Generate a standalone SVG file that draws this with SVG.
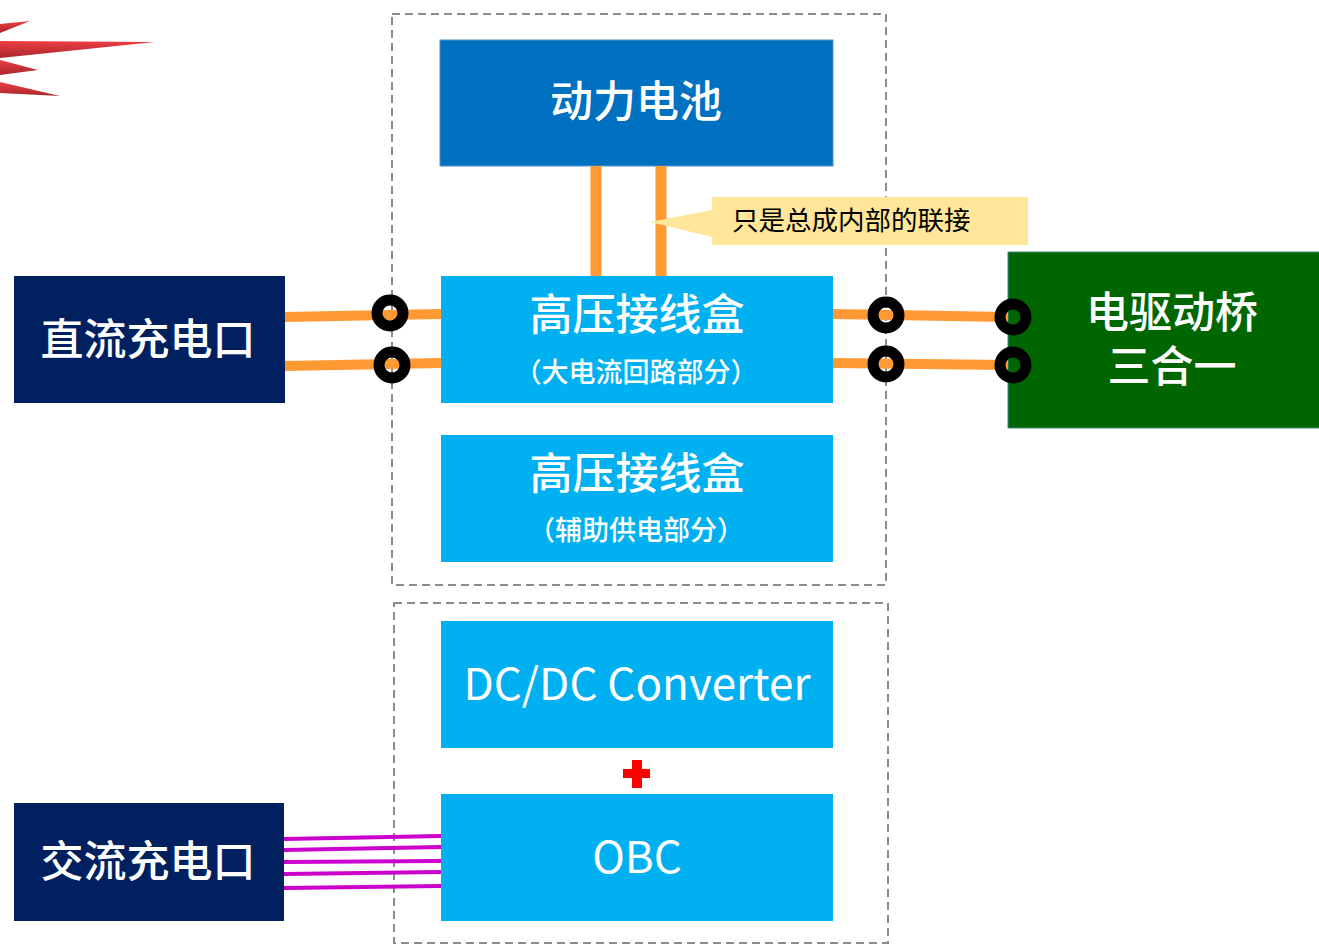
<svg xmlns="http://www.w3.org/2000/svg" width="1319" height="945" viewBox="0 0 1319 945">
  <defs>
    <linearGradient id="spikeGrad" x1="0" y1="0" x2="0" y2="1">
      <stop offset="0" stop-color="#ee3e44"/>
      <stop offset="1" stop-color="#a8272b"/>
    </linearGradient>
    <style>
      .zone { fill: none; stroke: #8c8c8c; stroke-width: 2; stroke-dasharray: 8 5; }
      .lbl { font-family: "Noto Sans CJK SC", "Noto Sans", sans-serif; fill: #ffffff; text-anchor: middle; }
      .cn { font-size: 43px; font-weight: 500; }
      .sub { font-size: 27px; font-weight: 500; }
      .en { font-size: 44px; font-weight: normal; }
      .hv { stroke: #ff9933; stroke-width: 10; fill: none; }
      .ac { stroke: #cc00cc; stroke-width: 4; fill: none; }
      .ring { fill: none; stroke: #000000; stroke-width: 11; }
    </style>
  </defs>
  <rect width="1319" height="945" fill="#ffffff"/>

  <!-- decorative red spikes, top left -->
  <g id="spikes" fill="url(#spikeGrad)">
    <polygon points="0,24 30,21 0,33"/>
    <polygon points="0,41 155,42 0,58"/>
    <polygon points="0,60 38,70 0,75"/>
    <polygon points="0,82 60,96 0,93"/>
  </g>

  <!-- dashed assembly outlines -->
  <rect class="zone" x="392" y="14" width="494" height="571"/>
  <rect class="zone" x="394" y="603" width="494" height="340"/>

  <g id="battery">
    <rect x="440" y="40" width="393" height="126" fill="#0070c0" stroke="#4f92d0" stroke-width="1"/>
    <text class="lbl cn" x="636" y="117">动力电池</text>
  </g>

  <g id="hv-box-main">
    <rect x="441" y="276" width="392" height="127" fill="#00b0f0"/>
    <text class="lbl cn" x="637" y="330">高压接线盒</text>
    <text class="lbl sub" x="636" y="382">（大电流回路部分）</text>
  </g>

  <g id="hv-box-aux">
    <rect x="441" y="435" width="392" height="127" fill="#00b0f0"/>
    <text class="lbl cn" x="637" y="489">高压接线盒</text>
    <text class="lbl sub" x="636" y="540">（辅助供电部分）</text>
  </g>

  <g id="dcdc">
    <rect x="441" y="621" width="392" height="127" fill="#00b0f0"/>
    <text class="lbl en" x="637" y="700">DC/DC Converter</text>
  </g>

  <g id="plus" fill="#ff0000">
    <rect x="623" y="769" width="27" height="9"/>
    <rect x="632" y="760" width="10" height="28"/>
  </g>

  <g id="obc">
    <rect x="441" y="794" width="392" height="127" fill="#00b0f0"/>
    <text class="lbl en" x="637" y="873">OBC</text>
  </g>

  <g id="dc-port">
    <rect x="14" y="276" width="271" height="127" fill="#002060"/>
    <text class="lbl cn" x="148" y="355">直流充电口</text>
  </g>

  <g id="ac-port">
    <rect x="14" y="803" width="270" height="118" fill="#002060"/>
    <text class="lbl cn" x="148" y="877">交流充电口</text>
  </g>

  <g id="edrive">
    <rect x="1008" y="252" width="312" height="176" fill="#006600" stroke="#3a8a8a" stroke-width="1"/>
    <text class="lbl cn" x="1172" y="328">电驱动桥<tspan x="1172" dy="54">三合一</tspan></text>
  </g>

  <!-- connectors: high-voltage cables, AC wires and terminal rings -->
  <g id="connectors">
    <line class="hv" x1="596" y1="166" x2="596" y2="276" style="stroke-width:11"/>
    <line class="hv" x1="661" y1="166" x2="661" y2="276" style="stroke-width:11"/>
    <line class="hv" x1="285" y1="317" x2="441" y2="314"/>
    <line class="hv" x1="285" y1="366" x2="441" y2="363"/>
    <line class="hv" x1="833" y1="314" x2="1008" y2="317"/>
    <line class="hv" x1="833" y1="363" x2="1008" y2="365"/>
    <line class="ac" x1="284" y1="839" x2="441" y2="836"/>
    <line class="ac" x1="284" y1="850" x2="441" y2="847"/>
    <line class="ac" x1="284" y1="862" x2="441" y2="861"/>
    <line class="ac" x1="284" y1="874" x2="441" y2="872"/>
    <line class="ac" x1="284" y1="888" x2="441" y2="886"/>
    <circle class="ring" cx="390" cy="313" r="13"/>
    <circle class="ring" cx="392" cy="365" r="13"/>
    <circle class="ring" cx="886" cy="315" r="13"/>
    <circle class="ring" cx="886" cy="364" r="13"/>
    <circle class="ring" cx="1013" cy="317" r="13"/>
    <circle class="ring" cx="1013" cy="365" r="13"/>
  </g>

  <g id="callout">
    <polygon points="712,210 650,222 712,237" fill="#ffe699"/>
    <rect x="712" y="197" width="316" height="48" fill="#ffe699"/>
    <text x="732" y="230" font-family="Noto Sans CJK SC, sans-serif" font-size="26.5" fill="#000000">只是总成内部的联接</text>
  </g>
</svg>
